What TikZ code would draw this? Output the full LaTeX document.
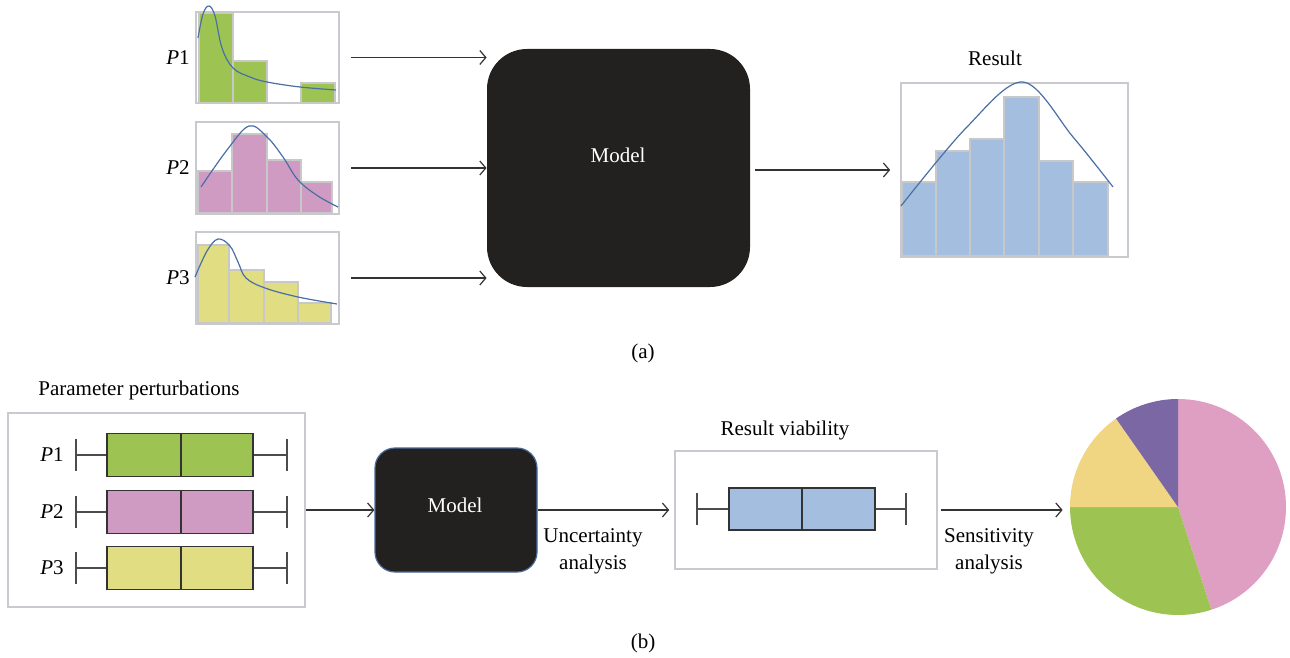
\documentclass[tikz,border=0pt]{standalone}
\usepackage{fontspec}
\setmainfont{Liberation Serif}
\usepackage{tikz}
\usetikzlibrary{arrows.meta}

\definecolor{pgreen}{HTML}{9DC453}
\definecolor{ppink}{HTML}{CF9BC2}
\definecolor{pyellow}{HTML}{E0DD82}
\definecolor{rblue}{HTML}{A3BEDE}
\definecolor{piepink}{HTML}{DF9FC3}
\definecolor{pieyellow}{HTML}{F0D582}
\definecolor{piepurple}{HTML}{7B67A3}
\definecolor{curveblue}{HTML}{4A6FA5}
\definecolor{framegray}{HTML}{C8CAD0}
\definecolor{bargray}{HTML}{C8C8C8}
\definecolor{modelblack}{HTML}{222120}
\definecolor{modeledge}{HTML}{4A6A9A}

\begin{document}
\begin{tikzpicture}[x=0.5pt, y=-0.5pt, font=\fontsize{10.5}{13.5}\selectfont]
			\tikzstyle{Frame}	= [draw=framegray, line width=0.8pt, inner sep=0pt]
			\tikzstyle{Bar}		= [draw=bargray, line width=0.6pt]
			\tikzstyle{Curve}	= [curveblue, line width=0.6pt]
			\tikzstyle{Black}	= [fill=modelblack, inner sep=0pt]
			\tikzstyle{Arrow}	= [-{Straight Barb[length=3pt,width=7pt]}, black!80, line width=0.6pt]
			\tikzstyle{BoxPlot}	= [draw=black!80, line width=0.8pt]
			\tikzstyle{Whisker}	= [black!70, line width=0.8pt]

			\useasboundingbox (0,0) rectangle (1290,658);

			% (a)
			\node (h1) at (267.5,57.5) [Frame, minimum width=71.5pt, minimum height=45.5pt] {};
			\node (h2) at (267.5,168) [Frame, minimum width=71.5pt, minimum height=46pt] {};
			\node (h3) at (267.5,278) [Frame, minimum width=71.5pt, minimum height=46pt] {};
			\node (l1) at (178,58) {\textit{P}1};
			\node (l2) at (178,168) {\textit{P}2};
			\node (l3) at (178,278) {\textit{P}3};

			\draw [Bar, fill=pgreen] (199,103) rectangle (233,13);
			\draw [Bar, fill=pgreen] (233,103) rectangle (267,61);
			\draw [Bar, fill=pgreen] (301,103) rectangle (335,83);
			\draw [Curve] plot [smooth, tension=0.6] coordinates {(198,38) (203,14) (209,6) (215,16) (222,48) (233,68) (250,77) (267,82) (300,87) (336,90)};

			\draw [Bar, fill=ppink] (198,213) rectangle (232,171);
			\draw [Bar, fill=ppink] (232,213) rectangle (267,134);
			\draw [Bar, fill=ppink] (267,213) rectangle (301,160);
			\draw [Bar, fill=ppink] (301,213) rectangle (332,182);
			\draw [Curve] plot [smooth, tension=0.6] coordinates {(201,187) (227,150) (249,126) (267,137) (283,157) (298,180) (318,196) (338,207)};

			\draw [Bar, fill=pyellow] (198,323) rectangle (229,245);
			\draw [Bar, fill=pyellow] (229,323) rectangle (264,270);
			\draw [Bar, fill=pyellow] (264,323) rectangle (298,282);
			\draw [Bar, fill=pyellow] (298,323) rectangle (331,303);
			\draw [Curve] plot [smooth, tension=0.6] coordinates {(195,277) (207,251) (218,239) (230,246) (238,262) (246,278) (265,288) (298,297) (337,304)};

			\node (model) at (618.5,168) [Black, minimum width=131.5pt, minimum height=119pt, rounded corners=20pt] {};
			\node (mtext) at (618,155) [text=white] {Model};

			\node (res) at (1014.5,170) [Frame, minimum width=113.5pt, minimum height=87pt] {};
			\node (restitle) at (995,58) {Result};
			\draw [Bar, fill=rblue] (902,256) rectangle (936,182);
			\draw [Bar, fill=rblue] (936,256) rectangle (970,151);
			\draw [Bar, fill=rblue] (970,256) rectangle (1004,139);
			\draw [Bar, fill=rblue] (1004,256) rectangle (1039,97);
			\draw [Bar, fill=rblue] (1039,256) rectangle (1073,161);
			\draw [Bar, fill=rblue] (1073,256) rectangle (1108,182);
			\draw [Curve] plot [smooth, tension=0.55] coordinates {(901,206) (966,128) (1023,82) (1073,137) (1113,187)};

			\draw [Arrow, shorten <=5.5pt] (h1) to (model.west |- h1);
			\draw [Arrow, shorten <=5.5pt] (h2) to (model.west |- h2);
			\draw [Arrow, shorten <=5.5pt] (h3) to (model.west |- h3);
			\draw [Arrow, shorten <=2.5pt, shorten >=5pt] (model.east |- res) to (res);

			\node (capa) at (643,353) {(a)};

			% (b)
			\node (pp) at (156.5,510) [Frame, minimum width=148.5pt, minimum height=97pt] {};
			\node (pptitle) at (139,390) {Parameter perturbations};
			\node (b1) at (52,455) {\textit{P}1};
			\node (b2) at (52,512) {\textit{P}2};
			\node (b3) at (52,568) {\textit{P}3};
			\foreach \y/\c in {455/pgreen, 512/ppink, 568/pyellow} {
				\draw [Whisker] (76,\y) -- (107,\y) (253,\y) -- (287,\y);
				\draw [Whisker] (76,\y-16) -- (76,\y+16) (287,\y-16) -- (287,\y+16);
				\draw [BoxPlot, fill=\c] (107,\y-21.5) rectangle (253,\y+21.5);
				\draw [BoxPlot] (181,\y-21.5) -- (181,\y+21.5);
			}

			\node (model2) at (456,510) [Black, draw=modeledge, line width=0.6pt, minimum width=81pt, minimum height=62pt, rounded corners=10pt] {};
			\node (m2text) at (455,505) [text=white] {Model};

			\node (viab) at (806,510) [Frame, minimum width=131pt, minimum height=59pt] {};
			\node (viabtitle) at (785,430) {Result viability};
			\draw [Whisker] (697,509) -- (729,509) (875,509) -- (906,509);
			\draw [Whisker] (697,493) -- (697,525) (906,493) -- (906,525);
			\draw [BoxPlot, fill=rblue] (729,488) rectangle (875,530);
			\draw [BoxPlot] (802,488) -- (802,530);

			\node (pie) at (1178,507) [circle, minimum size=108pt, inner sep=0pt] {};
			\fill [piepink] (pie.center) -- ++(90:54pt) arc [start angle=90, end angle=-72, radius=54pt] -- cycle;
			\fill [pgreen] (pie.center) -- ++(-72:54pt) arc [start angle=-72, end angle=-180, radius=54pt] -- cycle;
			\fill [pieyellow] (pie.center) -- ++(180:54pt) arc [start angle=180, end angle=125, radius=54pt] -- cycle;
			\fill [piepurple] (pie.center) -- ++(125:54pt) arc [start angle=125, end angle=90, radius=54pt] -- cycle;

			\draw [Arrow] (pp) to (model2);
			\draw [Arrow, shorten >=2.5pt] (model2) to (viab);
			\draw [Arrow, shorten <=1.5pt, shorten >=3.5pt] (viab) to (pie.west |- viab);
			\node (ua) at (593,551) [align=center] {Uncertainty\\analysis};
			\node (sa) at (989,551) [align=center] {Sensitivity\\analysis};

			\node (capb) at (643,643) {(b)};
		\end{tikzpicture}
\end{document}
